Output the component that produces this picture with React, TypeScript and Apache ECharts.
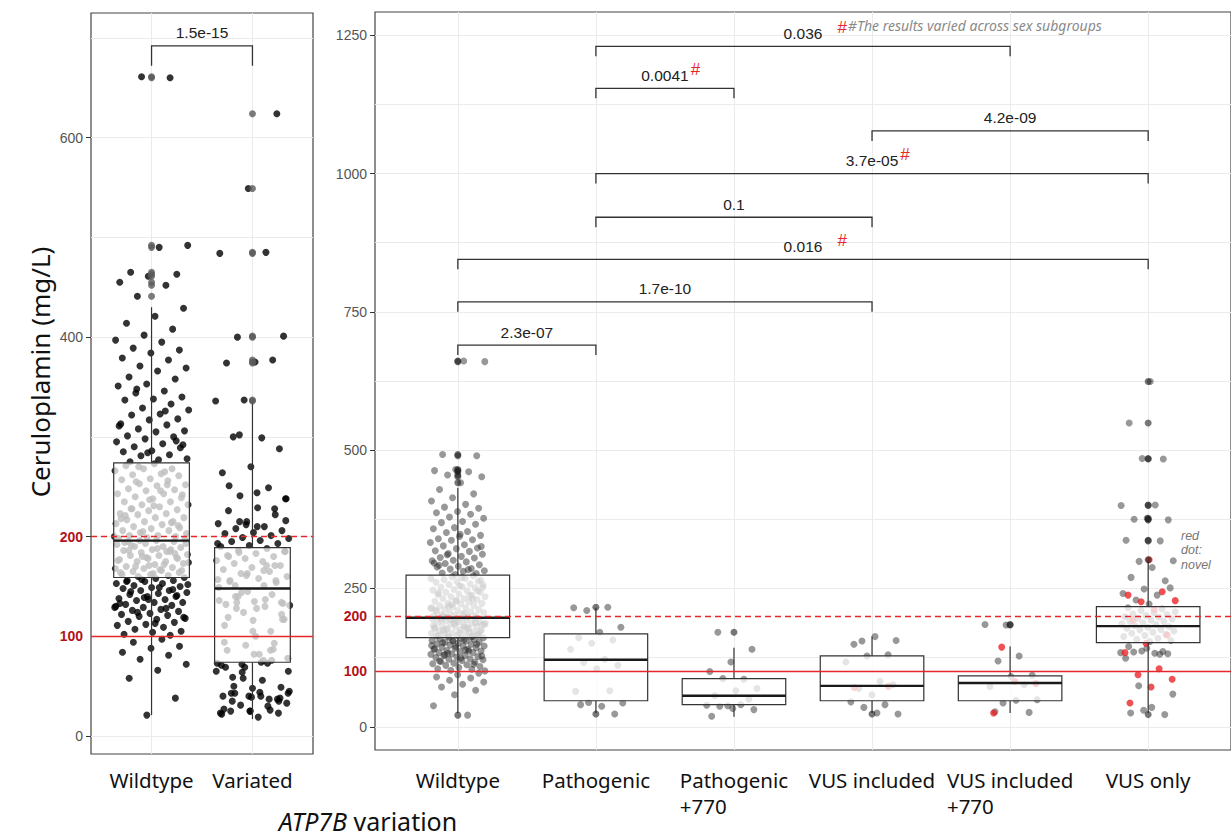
import React, { useEffect, useRef } from 'react';
import * as echarts from 'echarts';

// ---------------- data ----------------
const leftCategories = ['Wildtype', 'Variated'];
const rightCategories = ['Wildtype', 'Pathogenic', 'Pathogenic\n+770', 'VUS included', 'VUS included\n+770', 'VUS only'];

const wildtypeValues = [
  660, 661, 492, 490, 465, 463, 461, 455, 452, 441,
  429, 421, 414, 408, 402, 397, 395, 389, 387, 384, 379, 377, 371, 369, 366, 360, 358, 353, 351, 346,
  344, 340, 338, 337, 333, 329, 327, 323, 322, 318, 317, 313, 312, 308, 306, 305, 301, 300, 298, 295,
  293, 290, 289, 286, 285, 282, 281, 278, 277, 275, 296, 284, 311, 326, 348, 292,
  273, 271, 268, 268, 266, 263, 262, 261, 258, 257, 256, 253, 252, 251, 248, 247, 246, 243, 243, 240,
  239, 238, 235, 235, 232, 232, 230, 228, 227, 226, 223, 223, 222, 219, 219, 217, 215, 215, 213, 212,
  210, 209, 208, 206, 206, 204, 203, 201, 201, 200, 199, 198, 265, 255, 242, 231, 221, 214, 205, 200,
  246, 228, 211, 237, 218, 252, 270,
  197, 196, 195, 195, 193, 192, 190, 190, 189, 187, 186, 185, 184, 182, 181, 181, 179, 178, 177, 175,
  175, 173, 172, 170, 169, 168, 168, 166, 165, 164, 162, 162, 161, 196, 193, 188, 186, 183, 179, 176,
  172, 170, 166, 163, 194, 187, 180, 174, 167, 191, 178, 171, 164, 185,
  160, 159, 158, 156, 156, 155, 153, 153, 151, 150, 149, 148, 146, 146, 144, 143, 142, 140, 140, 138,
  137, 136, 134, 134, 132, 131, 129, 129, 127, 126, 125, 123, 122, 121, 120, 118, 117, 115, 114, 112,
  111, 109, 107, 105, 104, 102, 101, 157, 152, 149, 145, 141, 137, 133, 128, 124, 119, 113, 155, 147,
  139, 130,
  97, 94, 90, 88, 84, 81, 77, 72, 66, 58, 38, 21,
];
const pathogenicValues = [215, 216, 210, 180, 171, 161, 157, 151, 140, 122, 116, 111, 105, 64, 65, 44, 43, 37, 40, 23];
const pathogenic770Values = [171, 140, 117, 100, 86, 87, 69, 65, 56, 50, 38, 39, 40, 37, 31, 33, 19];
const vusIncludedValues = [155, 156, 163, 149, 130, 128, 117, 82, 69, 76, 58, 45, 40, 35, 23, 25];
const vusIncludedNovel = [71, 73];
const vusIncluded770Values = [184, 185, 128, 119, 93, 91, 73, 76, 43, 49, 48, 27, 26];
const vusIncluded770Novel = [144, 78, 82, 25];
const vusOnlyValues = [
  624, 549, 484, 485, 400, 401, 375, 374, 377, 337, 336, 299, 300, 288, 270, 264, 249, 241, 238, 229, 251, 222,
  215, 213, 210, 208, 206, 204, 203, 201, 199, 198, 196, 195, 193, 191, 190, 188, 186, 185, 183, 181, 180, 178,
  176, 175, 173, 171, 169, 167, 165, 163, 160, 158, 156, 154,
  145, 136, 137, 134, 133, 135, 132, 142, 124, 131, 74, 59, 35, 25, 22, 30,
];
const vusOnlyNovel = [302, 238, 244, 226, 228, 212, 193, 166, 151, 134, 105, 94, 86, 72, 43];

// box statistics: [lower whisker, Q1, median, Q3, upper whisker]
const leftBoxStats = [
  [21, 159, 196, 274, 430],
  [17, 74, 148, 189, 335],
];
const rightBoxStats = [
  [25, 161, 197, 274, 432],
  [25, 47, 121, 168, 215],
  [18, 40, 56, 87, 143],
  [25, 47, 74, 128, 163],
  [25, 47, 79, 92, 145],
  [25, 152, 182, 217, 300],
];

const leftYTicks = [0, 200, 400, 600];
const leftYLabels = [0, 100, 200, 400, 600];
const rightYTicks = [0, 250, 500, 750, 1000, 1250];
const rightYLabels = [0, 100, 200, 250, 500, 750, 1000, 1250];
const leftGridValues = [0, 100, 200, 300, 400, 500, 600, 700];
const rightGridValues = [0, 125, 250, 375, 500, 625, 750, 875, 1000, 1125, 1250];
const thresholds = [100, 200];

// significance brackets: [from group, to group, height]
const leftBrackets = [[1, 2, 692]];
const leftBracketLabels = ['1.5e-15'];
const leftBracketNotes = [''];
const rightBrackets = [
  [2, 5, 1230], [2, 3, 1154], [4, 6, 1077], [2, 6, 1000],
  [2, 4, 921], [1, 6, 845], [1, 4, 768], [1, 2, 690],
];
const rightBracketLabels = ['0.036', '0.0041', '4.2e-09', '3.7e-05', '0.1', '0.016', '1.7e-10', '2.3e-07'];
const rightBracketNotes = ['wide', 'tight', '', 'tight', '', 'wide', '', ''];
const sexNote = '#The results varied across sex subgroups';
const novelNoteLines = ['red', 'dot:', 'novel'];

// ---------------- helpers ----------------
const FONT_NUM = '"Liberation Sans", Arial, sans-serif';
const FONT_TEXT = '"Noto Sans", sans-serif';
const RED = '#e5262b';
const LABEL_RED = '#b3121b';

let measureCtx: any = null;
const measure = (text: string, font: string) => {
  if (!measureCtx) measureCtx = document.createElement('canvas').getContext('2d');
  measureCtx.font = font;
  return measureCtx.measureText(text).width;
};

const jit = (i: number, seed: number) => ((((i + 1) * 0.6180339887 + seed) % 1) * 2 - 1);
const jitterPoints = (values: number[], center: number, spread: number, seed: number) =>
  values.map((v, i) => [center + jit(i, seed) * spread, v]);
const outlierPoints = (values: number[], center: number, stats: number[]) =>
  values.filter((v) => v < stats[0] || v > stats[4]).map((v) => [center, v]);

const rightGroups = [
  { values: wildtypeValues, novel: [] as number[] },
  { values: pathogenicValues, novel: [] as number[] },
  { values: pathogenic770Values, novel: [] as number[] },
  { values: vusIncludedValues, novel: vusIncludedNovel },
  { values: vusIncluded770Values, novel: vusIncluded770Novel },
  { values: vusOnlyValues, novel: vusOnlyNovel },
];
const variatedValues = rightGroups.slice(1).reduce((acc: number[], g) => acc.concat(g.values, g.novel), []);

const leftJitter = [
  ...jitterPoints(wildtypeValues, 1, 0.37, 0.13),
  ...jitterPoints(variatedValues, 2, 0.37, 0.71),
];
const leftOutliers = [
  ...outlierPoints(wildtypeValues, 1, leftBoxStats[0]),
  ...outlierPoints(variatedValues, 2, leftBoxStats[1]),
];
const rightGray: number[][] = [];
const rightRed: number[][] = [];
const rightOutliers: number[][] = [];
rightGroups.forEach((g, k) => {
  const c = k + 1;
  rightGray.push(...jitterPoints(g.values, c, 0.2, 0.37 + k * 0.11));
  rightRed.push(...jitterPoints(g.novel, c, 0.2, 0.05 + k * 0.17));
  rightOutliers.push(...outlierPoints(g.values.concat(g.novel), c, rightBoxStats[k]));
});

const BOX_WIDTH = 0.75;
const renderBox = (params: any, api: any) => {
  const x = api.value(0);
  const lo = api.coord([x, api.value(1)]);
  const q1 = api.coord([x, api.value(2)]);
  const med = api.coord([x, api.value(3)]);
  const q3 = api.coord([x, api.value(4)]);
  const hi = api.coord([x, api.value(5)]);
  const half = api.size([BOX_WIDTH, 0])[0] / 2;
  const cx = q1[0];
  const stroke = '#333';
  return {
    type: 'group',
    children: [
      { type: 'line', shape: { x1: cx, y1: q3[1], x2: cx, y2: hi[1] }, style: { stroke, lineWidth: 1.2 } },
      { type: 'line', shape: { x1: cx, y1: q1[1], x2: cx, y2: lo[1] }, style: { stroke, lineWidth: 1.2 } },
      {
        type: 'rect',
        shape: { x: cx - half, y: q3[1], width: half * 2, height: q1[1] - q3[1] },
        style: { fill: 'rgba(255,255,255,0.75)', stroke, lineWidth: 1.2 },
      },
      { type: 'line', shape: { x1: cx - half, y1: med[1], x2: cx + half, y2: med[1] }, style: { stroke: '#1a1a1a', lineWidth: 2.4 } },
    ],
  };
};

const makeBracketRenderer = (labels: string[], notes: string[], tip: number, withSexNote: boolean) =>
  (params: any, api: any) => {
    const i = params.dataIndex;
    const x1 = api.value(0);
    const x2 = api.value(1);
    const y = api.value(2);
    const a = api.coord([x1, y - tip]);
    const b = api.coord([x1, y]);
    const c = api.coord([x2, y]);
    const d = api.coord([x2, y - tip]);
    const cx = (b[0] + c[0]) / 2;
    const font = `15.5px ${FONT_NUM}`;
    const children: any[] = [
      { type: 'polyline', shape: { points: [a, b, c, d] }, style: { stroke: '#333', lineWidth: 1.3, fill: 'none' } },
      {
        type: 'text', x: cx, y: b[1] - 13,
        style: { text: labels[i], font, fill: '#222', align: 'center', verticalAlign: 'middle' },
      },
    ];
    const note = notes[i];
    if (note) {
      const hashFont = `17px ${FONT_NUM}`;
      const nx = cx + measure(labels[i], font) / 2 + (note === 'wide' ? 15 : 2);
      children.push({
        type: 'text', x: nx, y: b[1] - 19,
        style: { text: '#', font: hashFont, fill: RED, align: 'left', verticalAlign: 'middle' },
      });
      if (withSexNote && i === 0) {
        children.push({
          type: 'text', x: nx + measure('#', hashFont) + 1, y: b[1] - 21,
          style: { text: sexNote, font: `italic 14px ${FONT_TEXT}`, fill: '#8a8a8a', align: 'left', verticalAlign: 'middle' },
        });
      }
    }
    return { type: 'group', children };
  };

const yLabelFormatter = (v: number) => (thresholds.includes(v) ? `{r|${v}}` : `${v}`);
const yRich = { r: { color: LABEL_RED, fontWeight: 'bold', fontSize: 14, fontFamily: FONT_NUM } };

const X_FONT = 20.5;
const xLabelBase = {
  fontSize: X_FONT,
  fontFamily: FONT_TEXT,
  color: '#111',
  lineHeight: 26,
  rich: { l: { align: 'left', fontSize: X_FONT, fontFamily: FONT_TEXT, color: '#111', lineHeight: 26 } },
};
const xFormatter = (cats: string[]) => (v: number) => {
  const name = cats[Math.round(v) - 1] || '';
  return name.includes('\n') ? name.split('\n').map((s) => `{l|${s}}`).join('\n') : name;
};

const gridLineMark = (yValues: number[], xValues: number[]) => ({
  silent: true,
  z: 1,
  symbol: 'none',
  label: { show: false },
  lineStyle: { color: '#ebebeb', width: 1, type: 'solid' },
  data: [...yValues.map((v) => ({ yAxis: v })), ...xValues.map((v) => ({ xAxis: v }))],
});
const thresholdMark = () => ({
  silent: true,
  z: 5,
  symbol: 'none',
  label: { show: false },
  data: [
    { yAxis: thresholds[0], lineStyle: { color: RED, width: 1.3, type: 'solid' } },
    { yAxis: thresholds[1], lineStyle: { color: RED, width: 1.3, type: [6, 4] } },
  ],
});

const axisTickStyle = { length: 5, lineStyle: { color: '#333', width: 1 } };

const novelNoteGraphics = novelNoteLines.map((line, i) => ({
  type: 'text',
  x: 1181,
  y: 529 + i * 14.5,
  style: {
    text: line, font: `italic 12.5px ${FONT_NUM}`, fill: '#777',
    align: 'left', verticalAlign: 'top', textAlign: 'left', textVerticalAlign: 'top',
  },
}));

const option: any = {
  animation: false,
  backgroundColor: '#fff',
  grid: [
    { left: 91, top: 13, width: 222, height: 741, show: true, borderColor: '#444', borderWidth: 1.2, backgroundColor: '#fff' },
    { left: 375, top: 12, width: 859, height: 738, show: true, borderColor: '#444', borderWidth: 1.2, backgroundColor: '#fff' },
  ],
  xAxis: [
    {
      type: 'value', gridIndex: 0, min: 0.4, max: 2.6,
      axisLine: { show: false }, splitLine: { show: false },
      axisTick: { show: true, customValues: [1, 2], ...axisTickStyle },
      axisLabel: { customValues: [1, 2], formatter: xFormatter(leftCategories), margin: 13, ...xLabelBase },
    },
    {
      type: 'value', gridIndex: 1, min: 0.4, max: 6.6,
      axisLine: { show: false }, splitLine: { show: false },
      axisTick: { show: true, customValues: [1, 2, 3, 4, 5, 6], ...axisTickStyle },
      axisLabel: { customValues: [1, 2, 3, 4, 5, 6], formatter: xFormatter(rightCategories), margin: 17, ...xLabelBase },
    },
  ],
  yAxis: [
    {
      type: 'value', gridIndex: 0, min: -18, max: 725,
      axisLine: { show: false }, splitLine: { show: false },
      axisTick: { show: true, customValues: leftYTicks, ...axisTickStyle },
      axisLabel: {
        customValues: leftYLabels, formatter: yLabelFormatter, rich: yRich,
        color: '#555', fontSize: 14, fontFamily: FONT_NUM, margin: 8,
      },
    },
    {
      type: 'value', gridIndex: 1, min: -42, max: 1292,
      axisLine: { show: false }, splitLine: { show: false },
      axisTick: { show: true, customValues: rightYTicks, ...axisTickStyle },
      axisLabel: {
        customValues: rightYLabels, formatter: yLabelFormatter, rich: yRich,
        color: '#555', fontSize: 14, fontFamily: FONT_NUM, margin: 8,
      },
    },
  ],
  series: [
    {
      type: 'scatter', name: 'left points', xAxisIndex: 0, yAxisIndex: 0, z: 2, silent: true,
      symbolSize: 7, itemStyle: { color: '#000' }, data: leftJitter,
    },
    {
      type: 'scatter', name: 'left outliers', xAxisIndex: 0, yAxisIndex: 0, z: 4, silent: true,
      symbolSize: 7, itemStyle: { color: '#5a5a5a' }, data: leftOutliers,
    },
    {
      type: 'scatter', name: 'right points', xAxisIndex: 1, yAxisIndex: 1, z: 2, silent: true,
      symbolSize: 7, itemStyle: { color: 'rgba(40,40,40,0.6)' }, data: rightGray,
    },
    {
      type: 'scatter', name: 'novel', xAxisIndex: 1, yAxisIndex: 1, z: 2, silent: true,
      symbolSize: 7, itemStyle: { color: 'rgba(232,28,32,0.95)' }, data: rightRed,
    },
    {
      type: 'scatter', name: 'right outliers', xAxisIndex: 1, yAxisIndex: 1, z: 4, silent: true,
      symbolSize: 7, itemStyle: { color: 'rgba(30,30,30,0.75)' }, data: rightOutliers,
    },
    {
      type: 'custom', name: 'left boxes', xAxisIndex: 0, yAxisIndex: 0, z: 3, silent: true,
      renderItem: renderBox,
      encode: { x: 0, y: [1, 2, 3, 4, 5] },
      data: leftBoxStats.map((s, k) => [k + 1, ...s]),
      markLine: gridLineMark(leftGridValues, [1, 2]),
    },
    {
      type: 'custom', name: 'right boxes', xAxisIndex: 1, yAxisIndex: 1, z: 3, silent: true,
      renderItem: renderBox,
      encode: { x: 0, y: [1, 2, 3, 4, 5] },
      data: rightBoxStats.map((s, k) => [k + 1, ...s]),
      markLine: gridLineMark(rightGridValues, [1, 2, 3, 4, 5, 6]),
    },
    {
      type: 'custom', name: 'left brackets', xAxisIndex: 0, yAxisIndex: 0, z: 6, silent: true,
      renderItem: makeBracketRenderer(leftBracketLabels, leftBracketNotes, 20, false),
      encode: { x: [0, 1], y: 2 },
      data: leftBrackets,
      markLine: thresholdMark(),
    },
    {
      type: 'custom', name: 'right brackets', xAxisIndex: 1, yAxisIndex: 1, z: 6, silent: true,
      renderItem: makeBracketRenderer(rightBracketLabels, rightBracketNotes, 18, true),
      encode: { x: [0, 1], y: 2 },
      data: rightBrackets,
      markLine: thresholdMark(),
    },
  ],
  graphic: [
    {
      type: 'text', x: 40, y: 372, rotation: Math.PI / 2,
      style: {
        text: 'Ceruloplamin (mg/L)', font: `26px ${FONT_TEXT}`, fill: '#111',
        align: 'center', verticalAlign: 'middle', textAlign: 'center', textVerticalAlign: 'middle',
      },
    },
    {
      type: 'text', x: 368, y: 821,
      style: {
        text: '{i|ATP7B} variation', font: `25px ${FONT_TEXT}`, fill: '#111',
        rich: { i: { fontStyle: 'italic', fontSize: 25, fontFamily: FONT_TEXT, color: '#111' } },
        align: 'center', verticalAlign: 'middle', textAlign: 'center', textVerticalAlign: 'middle',
      },
    },
    ...novelNoteGraphics,
  ],
};

export default function App() {
  const ref = useRef<HTMLDivElement>(null);
  useEffect(() => {
    const chart = echarts.init(ref.current as HTMLDivElement, undefined, { renderer: 'svg' });
    chart.setOption(option);
    return () => chart.dispose();
  }, []);
  return (
    <div
      ref={ref}
      style={{ position: 'fixed', left: 0, top: 0, width: 1231, height: 839, background: '#fff' }}
    />
  );
}
